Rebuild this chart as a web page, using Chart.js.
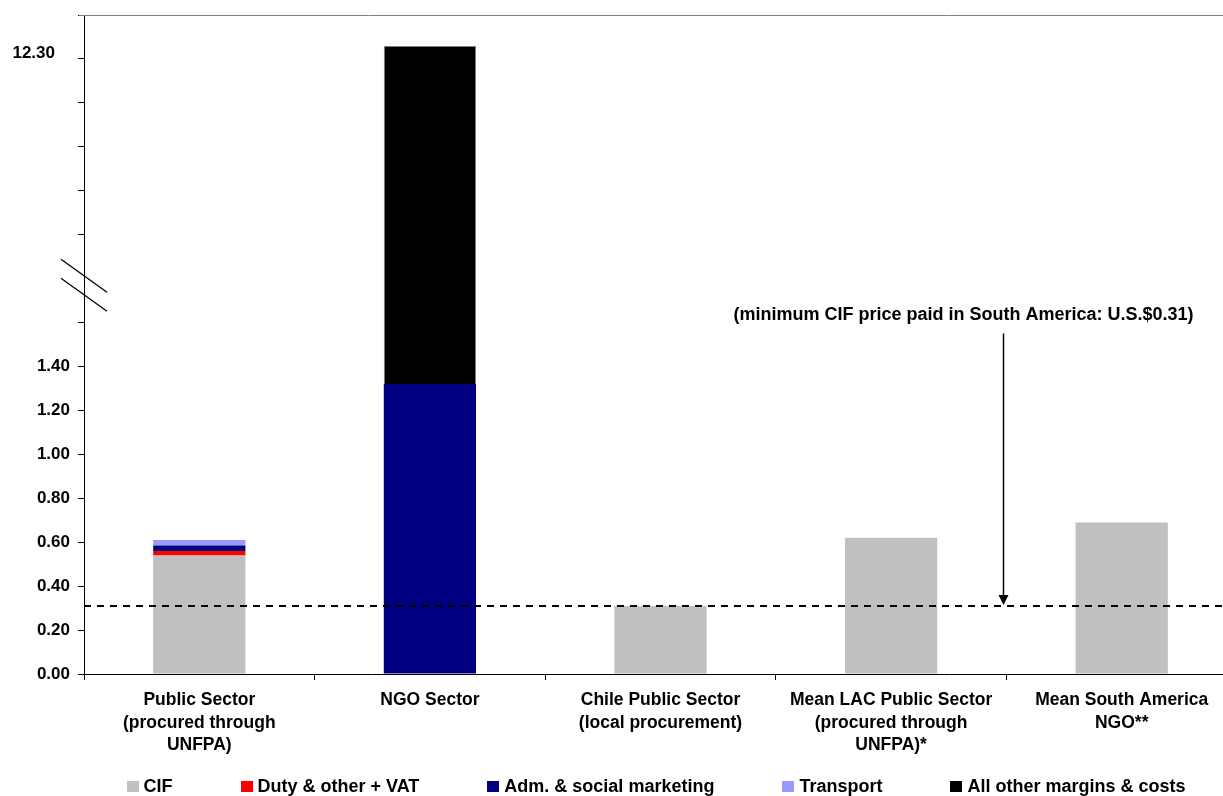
<!DOCTYPE html>
<html>
<head>
<meta charset="utf-8">
<title>Condom price build-up</title>
<script src="https://cdn.jsdelivr.net/npm/chart.js@4/dist/chart.umd.min.js"></script>
<style>
  html, body { margin: 0; padding: 0; background: #fff; overflow: hidden; }
  #wrap { position: relative; width: 1223px; height: 796px; overflow: hidden; }
  #wrap canvas { display: block; }
  #legend {
    position: absolute; left: 0; top: 777px; width: 1312px;
    display: flex; justify-content: center; gap: 68px;
    font: bold 18px 'Liberation Sans', Arial, sans-serif; color: #000;
    line-height: 18px; white-space: nowrap;
  }
  #legend .item { display: flex; align-items: center; }
  #legend .box { width: 12px; height: 11px; margin-right: 5px; }
</style>
</head>
<body>
<div id="wrap">
  <canvas id="chart" width="1237" height="796"></canvas>
  <div id="legend"></div>
</div>
<script>
// ---------------------------------------------------------
// Data (U.S.$ per unit)
// ---------------------------------------------------------
const categories = [
  ["Public Sector", "(procured through", "UNFPA)"],
  ["NGO Sector"],
  ["Chile Public Sector", "(local procurement)"],
  ["Mean LAC Public Sector", "(procured through", "UNFPA)*"],
  ["Mean South America", "NGO**"]
];

const cif          = [0.54, 0,     0.31, 0.62, 0.69];
const dutyVat      = [0.02, 0,     0,    0,    0];
const admMarketing = [0.025, 1.32, 0,    0,    0];
const transport    = [0.025, 0,    0,    0,    0];
const otherMargins = [0,    11.44, 0,    0,    0];

const seriesNames = ["CIF", "Duty & other + VAT", "Adm. & social marketing", "Transport", "All other margins & costs"];
const seriesColors = ["#c0c0c0", "#ff0000", "#000080", "#9999ff", "#000000"];
const series = [cif, dutyVat, admMarketing, transport, otherMargins];

// minimum CIF price paid in South America
const minCifPrice = 0.31;
const minCifNote = "(minimum CIF price paid in South America: U.S.$0.31)";

// Broken axis: linear up to 1.40, then 12.30 sits at the 2.80 slot
const breakAt = 1.4;
const topValue = 12.30;
const topSlot = 2.8;
const topLabel = "12.30";

function toAxis(v) {
  if (v <= breakAt) return v;
  return breakAt + (v - breakAt) * (topSlot - breakAt) / (topValue - breakAt);
}

// stacked segment heights expressed on the broken axis
function stackHeights(index) {
  return categories.map((_, i) => {
    let below = 0;
    for (let k = 0; k < index; k++) below += series[k][i];
    return toAxis(below + series[index][i]) - toAxis(below);
  });
}

const FONT = "'Liberation Sans', Arial, sans-serif";

// ---------------------------------------------------------
// Extra drawing: top frame line, axis break, min price line
// ---------------------------------------------------------
const decorations = {
  id: "decorations",
  beforeDatasetsDraw(chart) {
    const { ctx, chartArea } = chart;
    ctx.save();
    ctx.strokeStyle = "#808080";
    ctx.lineWidth = 1;
    ctx.beginPath();
    ctx.moveTo(chartArea.left - 5, chartArea.top + 0.5);
    ctx.lineTo(chartArea.right, chartArea.top + 0.5);
    ctx.stroke();
    ctx.restore();
  },
  afterDatasetsDraw(chart) {
    const { ctx, chartArea, scales } = chart;
    const y = scales.y.getPixelForValue(toAxis(minCifPrice));

    ctx.save();
    // dashed reference line
    ctx.strokeStyle = "#000";
    ctx.lineWidth = 2;
    ctx.setLineDash([7, 6]);
    ctx.beginPath();
    ctx.moveTo(chartArea.left, y);
    ctx.lineTo(chartArea.right, y);
    ctx.stroke();
    ctx.setLineDash([]);

    // arrow pointing down to the line
    const x3 = scales.x.getPixelForValue(3);
    const x4 = scales.x.getPixelForValue(4);
    const ax = Math.round(x3 + (x4 - x3) * 0.487) + 0.5;
    const arrowTop = scales.y.getPixelForValue(1.55);
    ctx.lineWidth = 1.5;
    ctx.beginPath();
    ctx.moveTo(ax, arrowTop);
    ctx.lineTo(ax, y - 9);
    ctx.stroke();
    ctx.fillStyle = "#000";
    ctx.beginPath();
    ctx.moveTo(ax - 5, y - 11);
    ctx.lineTo(ax + 5, y - 11);
    ctx.lineTo(ax, y - 1);
    ctx.closePath();
    ctx.fill();

    // note above the arrow
    ctx.font = "bold 18px " + FONT;
    ctx.textAlign = "center";
    ctx.textBaseline = "middle";
    ctx.fillText(minCifNote, ax - 40, arrowTop - 18);
    ctx.restore();
  },
  afterDraw(chart) {
    const { ctx, scales } = chart;
    const yScale = scales.y;
    const axisX = yScale.right;

    ctx.save();
    // axis break marks
    const cy = yScale.getPixelForValue(1.77);
    ctx.strokeStyle = "#000";
    ctx.lineWidth = 1.3;
    [-9.5, 9.5].forEach(off => {
      ctx.beginPath();
      ctx.moveTo(axisX - 23, cy + off - 16.5);
      ctx.lineTo(axisX + 23, cy + off + 16.5);
      ctx.stroke();
    });

    // label for the top of the broken axis
    ctx.fillStyle = "#000";
    ctx.font = "bold 17px " + FONT;
    ctx.textAlign = "right";
    ctx.textBaseline = "middle";
    ctx.fillText(topLabel, axisX - 29, yScale.getPixelForValue(topSlot) - 6);
    ctx.restore();
  }
};

// ---------------------------------------------------------
// Chart
// ---------------------------------------------------------
const datasets = series.map((_, i) => ({
  label: seriesNames[i],
  data: stackHeights(i),
  backgroundColor: seriesColors[i],
  borderColor: "#808080",
  borderWidth: i === 4 ? (c => (c.raw > 0 ? { top: 1, left: 1, right: 1, bottom: 0 } : 0)) : 0,
  borderSkipped: false,
  categoryPercentage: 1,
  barPercentage: 0.4
}));

const chart = new Chart(document.getElementById("chart"), {
  type: "bar",
  data: { labels: categories, datasets },
  options: {
    responsive: false,
    animation: false,
    layout: { padding: { left: 0, top: 15, right: 0, bottom: 0 } },
    plugins: {
      tooltip: { enabled: false },
      legend: { display: false }
    },
    scales: {
      x: {
        stacked: true,
        grid: {
          offset: true,
          drawOnChartArea: false,
          drawTicks: true,
          tickLength: 6,
          color: "#000"
        },
        border: { color: "#000", width: 1 },
        ticks: {
          color: "#000",
          padding: 9,
          maxRotation: 0,
          autoSkip: false,
          font: { family: FONT, size: 17.5, weight: "bold", lineHeight: 1.29 }
        },
        afterFit(scale) { scale.height = 122; }
      },
      y: {
        stacked: true,
        min: 0,
        max: 3,
        grid: {
          drawOnChartArea: false,
          tickLength: 6,
          tickColor: c => (c.tick && Math.abs(c.tick.value - 1.8) < 1e-6 ? "rgba(0,0,0,0)" : "#000")
        },
        border: { color: "#000", width: 1 },
        ticks: {
          stepSize: 0.2,
          maxTicksLimit: 20,
          autoSkip: false,
          padding: 8,
          color: "#000",
          font: { family: FONT, size: 17, weight: "bold" },
          callback: v => (v <= breakAt + 1e-6 ? v.toFixed(2) : "")
        },
        afterFit(scale) {
          scale.width = 84;
          scale.paddingTop = 0;  // top label is blank, no room needed
        }
      }
    }
  },
  plugins: [decorations]
});

// ---------------------------------------------------------
// Legend built from the chart's datasets
// ---------------------------------------------------------
const legendEl = document.getElementById("legend");
legendEl.innerHTML = chart.data.datasets.map(ds => `
  <span class="item"><span class="box" style="background:${ds.backgroundColor}"></span>${ds.label.replace(/&/g, "&amp;")}</span>
`).join("");
</script>
</body>
</html>
